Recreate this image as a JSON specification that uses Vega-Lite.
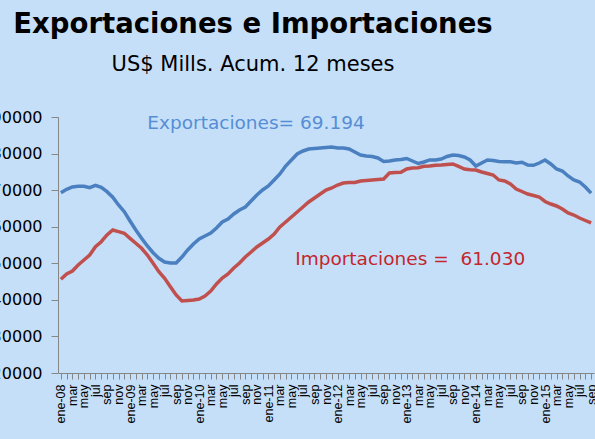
{
  "$schema": "https://vega.github.io/schema/vega-lite/v6.json",
  "width": 536,
  "height": 256,
  "autosize": {"type": "none"},
  "padding": {"left": 58, "top": 117, "right": 1, "bottom": 66},
  "background": "#c6dff8",
  "title": {
    "text": "Exportaciones e Importaciones",
    "subtitle": "US$ Mills. Acum. 12 meses",
    "anchor": "middle",
    "frame": "group",
    "dx": -73,
    "offset": 34,
    "font": "DejaVu Sans",
    "fontSize": 27.5,
    "fontWeight": "bold",
    "color": "#000000",
    "subtitleFont": "DejaVu Sans",
    "subtitleFontSize": 21,
    "subtitleColor": "#000000",
    "subtitlePadding": 15.5
  },
  "config": {
    "view": {"stroke": null},
    "axis": {"grid": false, "domainColor": "#868686", "tickColor": "#868686", "labelColor": "#000000"},
    "axisY": {"title": null, "tickSize": 7, "labelPadding": 9, "labelOverlap": false, "labelFont": "DejaVu Sans", "labelFontSize": 16, "format": "d", "values": [20000, 30000, 40000, 50000, 60000, 70000, 80000, 90000]}
  },
  "data": {"values": [
    {"mes":"ene-08","exp":69300,"imp":45620},
    {"mes":"feb-08","exp":70230,"imp":47070},
    {"mes":"mar-08","exp":70860,"imp":47890},
    {"mes":"abr-08","exp":71050,"imp":49530},
    {"mes":"may-08","exp":71050,"imp":50900},
    {"mes":"jun-08","exp":70670,"imp":52270},
    {"mes":"jul-08","exp":71330,"imp":54540},
    {"mes":"ago-08","exp":70780,"imp":55900},
    {"mes":"sep-08","exp":69580,"imp":57740},
    {"mes":"oct-08","exp":68050,"imp":59100},
    {"mes":"nov-08","exp":65940,"imp":58640},
    {"mes":"dic-08","exp":64110,"imp":58200},
    {"mes":"ene-09","exp":61560,"imp":56830},
    {"mes":"feb-09","exp":59100,"imp":55470},
    {"mes":"mar-09","exp":56830,"imp":54100},
    {"mes":"abr-09","exp":54730,"imp":52270,"etiqueta":"Exportaciones= 69.194","etiqueta_y":86600,"tipo":"exp"},
    {"mes":"may-09","exp":52900,"imp":50000},
    {"mes":"jun-09","exp":51360,"imp":47700},
    {"mes":"jul-09","exp":50350,"imp":45900},
    {"mes":"ago-09","exp":50080,"imp":43600},
    {"mes":"sep-09","exp":50080,"imp":41330},
    {"mes":"oct-09","exp":51720,"imp":39690},
    {"mes":"nov-09","exp":53630,"imp":39830},
    {"mes":"dic-09","exp":55280,"imp":39960},
    {"mes":"ene-10","exp":56640,"imp":40240},
    {"mes":"feb-10","exp":57460,"imp":41060},
    {"mes":"mar-10","exp":58280,"imp":42420},
    {"mes":"abr-10","exp":59650,"imp":44340},
    {"mes":"may-10","exp":61290,"imp":45980},
    {"mes":"jun-10","exp":62110,"imp":47070},
    {"mes":"jul-10","exp":63480,"imp":48710},
    {"mes":"ago-10","exp":64570,"imp":50080},
    {"mes":"sep-10","exp":65390,"imp":51720},
    {"mes":"oct-10","exp":67030,"imp":53090},
    {"mes":"nov-10","exp":68670,"imp":54460},
    {"mes":"dic-10","exp":70040,"imp":55550},
    {"mes":"ene-11","exp":71140,"imp":56640},
    {"mes":"feb-11","exp":72780,"imp":58010},
    {"mes":"mar-11","exp":74420,"imp":59920},
    {"mes":"abr-11","exp":76600,"imp":61290},
    {"mes":"may-11","exp":78250,"imp":62660},
    {"mes":"jun-11","exp":79890,"imp":64030,"etiqueta":"Importaciones =\u00a0 61.030","etiqueta_y":49500,"tipo":"imp"},
    {"mes":"jul-11","exp":80710,"imp":65390},
    {"mes":"ago-11","exp":81250,"imp":66760},
    {"mes":"sep-11","exp":81390,"imp":67850},
    {"mes":"oct-11","exp":81530,"imp":68950},
    {"mes":"nov-11","exp":81660,"imp":70040},
    {"mes":"dic-11","exp":81800,"imp":70590},
    {"mes":"ene-12","exp":81530,"imp":71410},
    {"mes":"feb-12","exp":81530,"imp":71960},
    {"mes":"mar-12","exp":81250,"imp":72090},
    {"mes":"abr-12","exp":80430,"imp":72090},
    {"mes":"may-12","exp":79610,"imp":72500},
    {"mes":"jun-12","exp":79340,"imp":72640},
    {"mes":"jul-12","exp":79200,"imp":72780},
    {"mes":"ago-12","exp":78790,"imp":72910},
    {"mes":"sep-12","exp":77830,"imp":73050},
    {"mes":"oct-12","exp":77970,"imp":74690},
    {"mes":"nov-12","exp":78250,"imp":74830},
    {"mes":"dic-12","exp":78380,"imp":74880},
    {"mes":"ene-13","exp":78660,"imp":75780},
    {"mes":"feb-13","exp":77970,"imp":76060},
    {"mes":"mar-13","exp":77290,"imp":76140},
    {"mes":"abr-13","exp":77700,"imp":76520},
    {"mes":"may-13","exp":78250,"imp":76600},
    {"mes":"jun-13","exp":78250,"imp":76800},
    {"mes":"jul-13","exp":78520,"imp":76880},
    {"mes":"ago-13","exp":79200,"imp":77010},
    {"mes":"sep-13","exp":79610,"imp":77150},
    {"mes":"oct-13","exp":79480,"imp":76470},
    {"mes":"nov-13","exp":79070,"imp":75780},
    {"mes":"dic-13","exp":78250,"imp":75590},
    {"mes":"ene-14","exp":76600,"imp":75510},
    {"mes":"feb-14","exp":77420,"imp":74960},
    {"mes":"mar-14","exp":78250,"imp":74550},
    {"mes":"abr-14","exp":78110,"imp":74140},
    {"mes":"may-14","exp":77830,"imp":72780},
    {"mes":"jun-14","exp":77780,"imp":72500},
    {"mes":"jul-14","exp":77780,"imp":71680},
    {"mes":"ago-14","exp":77420,"imp":70310},
    {"mes":"sep-14","exp":77620,"imp":69630},
    {"mes":"oct-14","exp":76880,"imp":68950},
    {"mes":"nov-14","exp":76800,"imp":68540},
    {"mes":"dic-14","exp":77420,"imp":68130},
    {"mes":"ene-15","exp":78250,"imp":66900},
    {"mes":"feb-15","exp":77150,"imp":66210},
    {"mes":"mar-15","exp":75780,"imp":65670},
    {"mes":"abr-15","exp":75240,"imp":64850},
    {"mes":"may-15","exp":73870,"imp":63750},
    {"mes":"jun-15","exp":72780,"imp":63200},
    {"mes":"jul-15","exp":72230,"imp":62380},
    {"mes":"ago-15","exp":70860,"imp":61700},
    {"mes":"sep-15","exp":69194,"imp":61030}
  ]},
  "layer": [
    {
      "mark": {"type": "line", "color": "#4a7fc0", "strokeWidth": 3.5},
      "encoding": {
        "x": {
          "field": "mes",
          "type": "ordinal",
          "sort": null,
          "scale": {"type": "point", "padding": 0.5},
          "axis": {
            "title": null,
            "tickSize": 6,
            "labelAngle": -90,
            "labelOverlap": false,
            "labelPadding": 5,
            "labelFont": "Liberation Sans",
            "labelFontSize": 12.5,
            "labelExpr": "indexof(['ene','mar','may','jul','sep','nov'], slice(datum.value,0,3)) < 0 ? '' : (slice(datum.value,0,3) == 'ene' ? datum.value : slice(datum.value,0,3))"
          }
        },
        "y": {
          "field": "exp",
          "type": "quantitative",
          "scale": {"domain": [20000, 90000], "nice": false, "zero": false}
        }
      }
    },
    {
      "mark": {"type": "line", "color": "#c0504d", "strokeWidth": 3.5},
      "encoding": {
        "x": {"field": "mes", "type": "ordinal", "sort": null},
        "y": {"field": "imp", "type": "quantitative"}
      }
    },
    {
      "transform": [{"filter": "datum.tipo == 'exp'"}],
      "mark": {"type": "text", "align": "left", "baseline": "alphabetic", "font": "DejaVu Sans", "fontSize": 18.5, "color": "#558ed5"},
      "encoding": {
        "x": {"field": "mes", "type": "ordinal", "sort": null},
        "y": {"field": "etiqueta_y", "type": "quantitative"},
        "text": {"field": "etiqueta"}
      }
    },
    {
      "transform": [{"filter": "datum.tipo == 'imp'"}],
      "mark": {"type": "text", "align": "left", "baseline": "alphabetic", "dx": -2, "font": "DejaVu Sans", "fontSize": 18.5, "color": "#c3262c"},
      "encoding": {
        "x": {"field": "mes", "type": "ordinal", "sort": null},
        "y": {"field": "etiqueta_y", "type": "quantitative"},
        "text": {"field": "etiqueta"}
      }
    }
  ]
}
